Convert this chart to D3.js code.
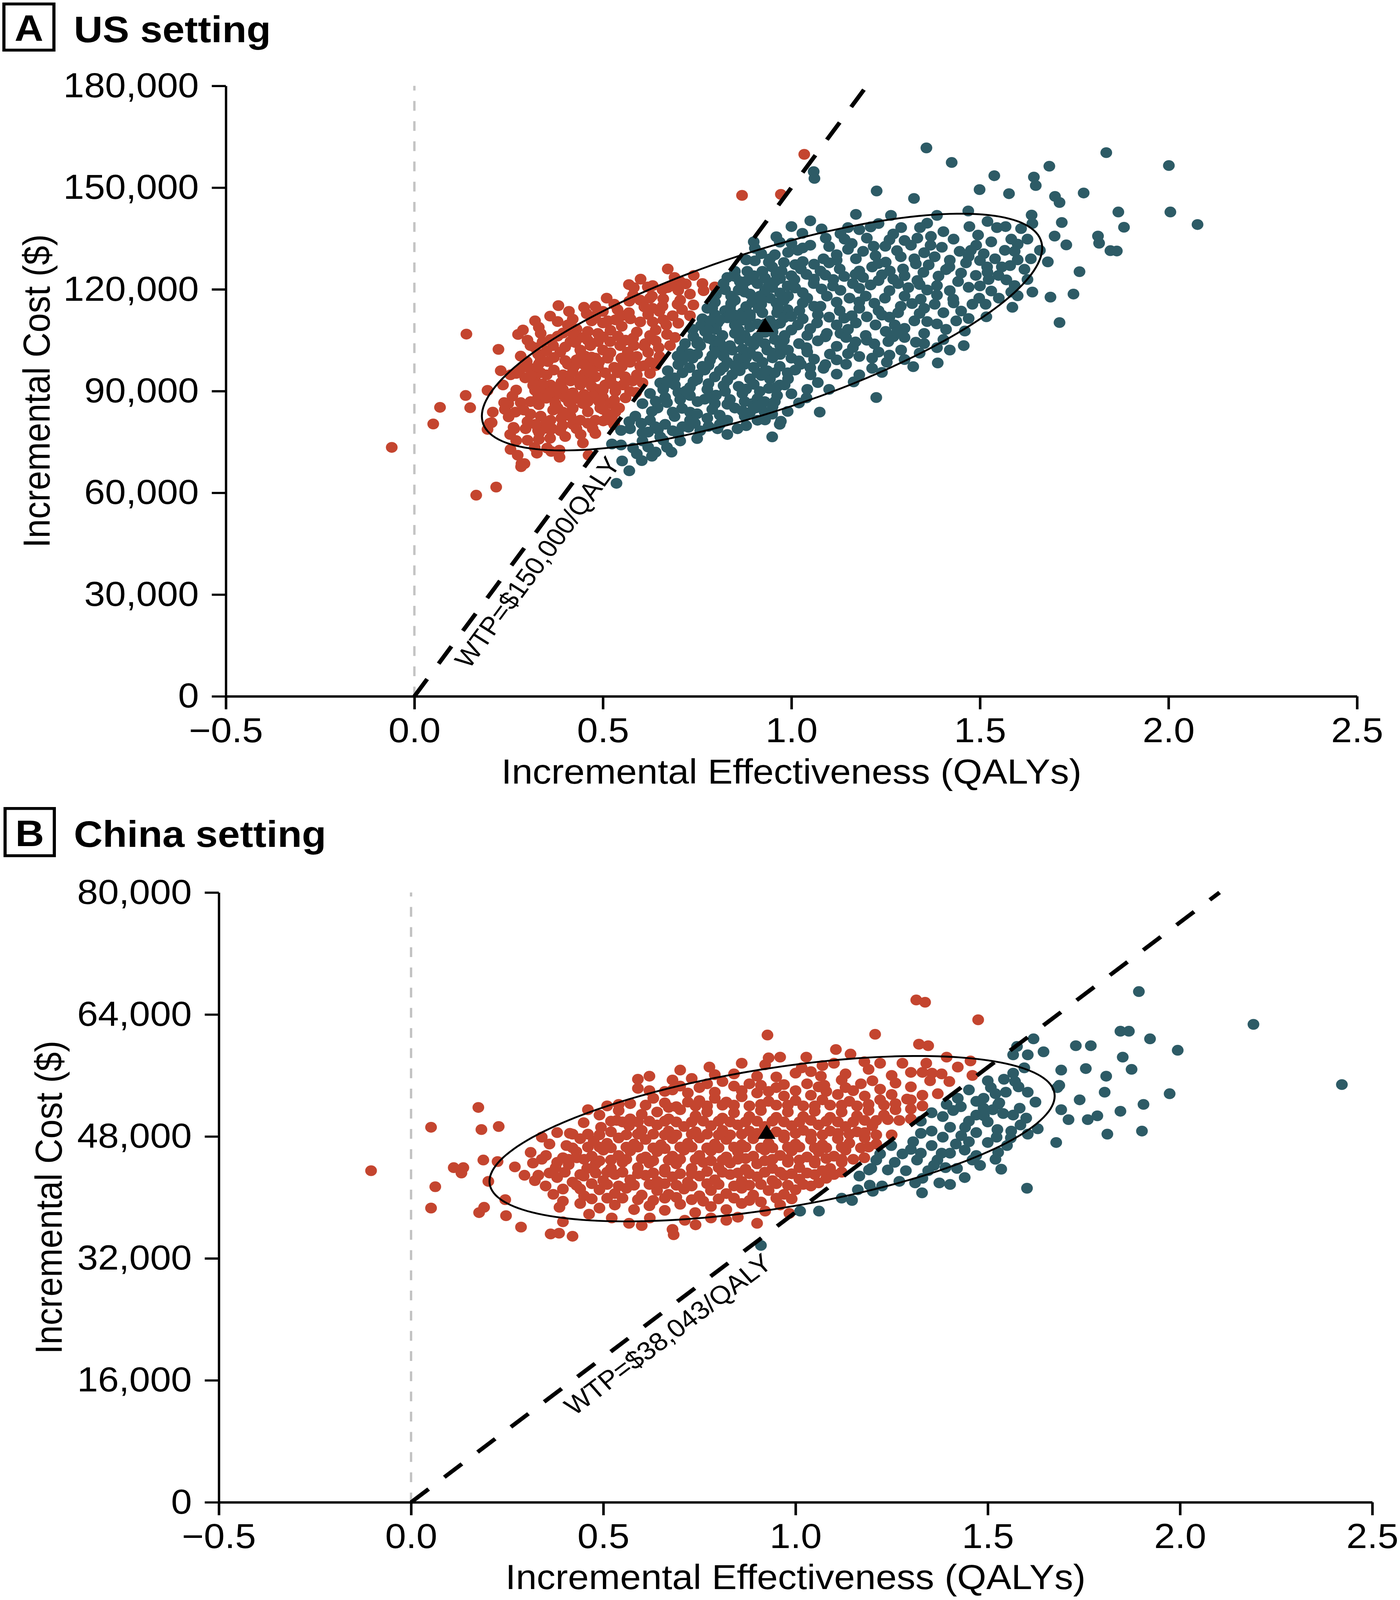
<!DOCTYPE html>
<html>
<head>
<meta charset="utf-8">
<script src="https://cdn.jsdelivr.net/npm/d3@7"></script>
<style>
    html, body { margin: 0; width: 100%; height: 100%; overflow: hidden; background: #fff; }
    svg { display: block; }
</style>
</head>
<body>
<div id="chart-area" style="width:100%;height:100%"></div>
<script>
// ---- data ----
const effectTicks = [-0.5, 0, 0.5, 1, 1.5, 2, 2.5];
const usCostTicks = [0, 30000, 60000, 90000, 120000, 150000, 180000];
const cnCostTicks = [0, 16000, 32000, 48000, 64000, 80000];

const usWtp = 150000;
const cnWtp = 38043;

// mean point [QALY, cost $k]
const usMean = [0.93, 108.8];
const cnMean = [0.925, 48.3];

// 95% ellipse: [cx, cy ($k), half-width QALY, half-height $k, correlation]
const usEllipse = [0.922, 107.4, 0.743, 34.9, 0.71];
const cnEllipse = [0.939, 47.7, 0.735, 10.85, 0.516];

// simulations [incremental QALY, incremental cost $k]
const usPoints = [
    [-0.06,73.4],[0.05,80.3],[0.068,85.2],[0.136,88.7],[0.148,85.1],[0.138,106.8],[0.164,59.3],[0.217,61.7],[0.194,90.2],[0.223,102.3],
    [0.255,72.8],[0.284,68.6],[0.319,73.4],[0.363,72.2],[0.869,147.7],[0.972,148.0],[1.034,159.8],
    [0.200,80.5],[0.194,78.7],[0.263,79.3],[0.254,77.2],[0.328,78.4],[0.346,79.0],[0.364,79.0],[0.393,79.9],[0.420,80.2],[0.441,77.2],
    [0.480,77.5],[0.501,81.2],[0.524,82.4],[0.274,71.1],[0.292,68.6],[0.283,67.7],[0.325,71.7],[0.352,73.2],[0.385,72.6],[0.385,70.5],[0.462,71.1],
    [0.208,83.8],[0.205,80.7],[0.238,86.6],[0.265,78.9],[0.294,93.9],[0.275,106.7],[0.288,108.0],[0.330,108.8],[0.335,99.4],[0.354,98.7],
    [0.298,98.7],[0.315,91.7],[0.331,77.7],[0.361,78.6],[0.382,115.2],[0.394,107.1],[0.427,104.3],[0.387,101.5],[0.443,100.6],[0.407,97.9],
    [0.457,112.8],[0.480,115.0],[0.510,117.4],[0.539,114.0],[0.569,121.4],[0.619,120.7],[0.672,126.0],[0.741,124.1],[0.658,119.9],[0.705,116.8],
    [0.767,119.6],[0.797,120.7],[0.599,116.8],[0.632,114.4],[0.573,111.3],[0.599,110.4],[0.632,110.4],[0.533,111.0],[0.513,110.7],[0.480,112.2],
    [0.685,112.2],[0.731,112.2],[0.668,109.5],[0.691,105.8],[0.625,106.4],[0.612,104.0],[0.648,102.8],[0.678,103.4],[0.582,103.4],[0.566,101.5],
    [0.549,99.7],[0.572,98.5],[0.599,97.3],[0.625,98.5],[0.640,97.5],[0.539,95.4],[0.559,94.2],[0.579,93.0],[0.553,91.8],[0.533,89.9],
    [0.572,89.9],[0.588,89.6],[0.605,92.4],[0.625,95.2],[0.487,104.6],[0.500,102.1],[0.513,99.7],[0.467,103.4],[0.480,99.7],[0.467,97.9],
    [0.487,97.3],[0.506,95.4],[0.480,94.2],[0.460,93.0],[0.506,91.8],[0.487,90.5],[0.473,88.7],[0.500,88.1],[0.519,86.3],[0.493,85.0],
    [0.460,86.9],[0.513,83.2],[0.533,83.8],[0.480,81.4],[0.519,81.4],[0.543,85.0],[0.424,97.3],[0.394,94.8],[0.414,93.0],[0.440,91.8],
    [0.394,90.5],[0.400,88.1],[0.430,87.8],[0.447,86.3],[0.374,86.3],[0.394,83.8],[0.368,84.4],[0.414,82.6],[0.440,81.4],[0.473,78.9],
    [0.447,74.7],[0.335,95.4],[0.315,96.6],[0.351,94.8],[0.321,93.0],[0.361,91.8],[0.348,89.9],[0.374,88.7],[0.328,88.1],[0.308,86.9],
    [0.282,86.6],[0.249,86.3],[0.268,83.8],[0.308,83.2],[0.335,82.6],[0.361,81.4],[0.321,80.2],[0.387,78.3],[0.295,78.9],[0.500,110.1],
    [0.460,107.6],[0.487,107.0],[0.440,105.8],[0.414,104.6],[0.368,103.4],[0.440,102.1],[0.453,100.3],[0.546,103.4],[0.519,104.6],[0.698,115.6],
    [0.658,115.0],[0.569,113.1],[0.625,117.4],[0.672,120.5],[0.731,118.6],[0.764,121.7],[0.705,122.3],[0.632,121.1],[0.582,120.5],[0.407,109.5],
    [0.335,107.0],[0.361,105.2],[0.308,103.4],[0.328,100.9],[0.282,100.3],[0.255,94.8],[0.282,96.6],[0.235,91.8],[0.229,96.0],
    [0.31,94.6],[0.34,92.1],[0.37,96.2],[0.39,92.6],[0.42,95.6],[0.45,95.0],[0.47,91.4],[0.52,93.5],[0.55,97.2],[0.33,86.0],
    [0.36,89.5],[0.38,85.0],[0.42,89.5],[0.45,89.0],[0.49,86.9],[0.53,87.3],[0.56,88.0],[0.35,80.9],[0.39,82.0],[0.42,84.9],
    [0.46,83.9],[0.50,84.6],[0.53,80.1],[0.32,102.8],[0.35,101.8],[0.40,103.0],[0.43,99.2],[0.47,100.0],[0.52,101.3],[0.56,105.0],
    [0.59,100.2],[0.62,101.4],[0.65,100.2],[0.38,110.5],[0.43,108.3],[0.47,110.7],[0.52,107.9],[0.55,109.1],[0.59,107.4],[0.64,108.0],
    [0.67,106.7],[0.70,110.0],[0.45,114.7],[0.53,115.6],[0.58,118.3],[0.62,112.6],[0.66,117.2],[0.70,119.7],[0.74,115.4],[0.69,123.5],
    [0.60,123.0],[0.27,90.3],[0.25,82.4],[0.30,81.0],[0.27,95.2],[0.32,110.7],[0.36,112.1],[0.41,113.5],
    [0.26,88.5],[0.29,84.4],[0.32,90.2],[0.35,87.9],[0.38,91.0],[0.41,86.7],[0.44,93.6],[0.47,95.9],[0.50,90.3],[0.53,91.6],
    [0.56,92.7],[0.59,94.8],[0.61,97.5],[0.30,97.0],[0.33,98.0],[0.37,99.9],[0.40,99.0],[0.45,97.8],[0.49,98.6],[0.53,97.0],
    [0.57,99.5],[0.61,103.3],[0.64,104.8],[0.30,105.0],[0.34,104.5],[0.38,106.2],[0.42,107.0],[0.46,105.0],[0.50,106.0],[0.54,106.2],
    [0.58,105.6],[0.66,111.0],[0.71,114.0],[0.42,111.2],[0.50,113.5],[0.55,112.2],[0.61,114.8],[0.65,113.5],[0.57,116.5],[0.63,118.0],
    [0.68,121.0],[0.72,121.6],[0.36,76.1],[0.40,76.6],[0.43,78.9],[0.46,80.5],[0.30,75.5],[0.33,75.8],[0.27,75.4],[0.24,84.6],
    [0.548,78.4],[0.524,74.4],[0.548,74.1],[0.605,75.3],[0.602,80.5],[0.646,78.7],[0.682,72.0],[0.551,69.4],[0.603,69.5],[0.536,62.8],
    [0.727,79.3],[0.744,80.5],[0.590,71.5],[0.640,72.0],[0.620,73.5],[0.660,75.5],
    [0.57,66.5],[0.58,73.2],[0.63,70.8],[0.67,73.4],[0.70,77.3],[0.75,76.0],[0.78,79.6],[0.83,77.2],[0.88,79.8],[0.62,77.9],[0.57,81.0],
    [0.903,132.1],[0.956,130.2],[0.903,128.4],[0.949,126.6],[0.883,125.3],[0.923,125.3],[0.830,123.5],[0.863,122.3],[0.910,121.7],[0.949,120.5],
    [0.824,119.9],[0.876,119.2],[0.850,116.8],[0.797,116.2],[0.896,116.2],[0.943,117.4],[0.777,114.4],[0.824,113.7],[0.870,113.1],[0.923,113.1],
    [0.962,113.1],[0.764,111.3],[0.804,110.1],[0.850,109.5],[0.890,108.9],[0.771,107.6],[0.738,108.2],[0.817,106.4],[0.863,105.2],[0.910,105.8],
    [0.956,105.2],[0.718,104.0],[0.758,103.4],[0.797,102.8],[0.843,102.1],[0.890,101.5],[0.936,102.1],[0.698,100.3],[0.738,99.7],[0.784,99.1],
    [0.830,98.5],[0.876,97.9],[0.923,98.5],[0.969,97.3],[0.672,96.0],[0.711,95.4],[0.751,94.8],[0.797,94.2],[0.843,94.8],[0.890,93.6],
    [0.943,93.6],[0.652,92.4],[0.691,91.8],[0.731,91.1],[0.777,90.5],[0.824,89.9],[0.870,89.3],[0.916,89.9],[0.962,88.7],[0.625,89.3],
    [0.665,88.1],[0.705,87.5],[0.751,86.9],[0.797,86.3],[0.850,85.0],[0.896,86.3],[0.605,86.3],[0.645,85.0],[0.685,83.8],[0.731,83.8],
    [0.777,82.0],[0.830,81.4],[0.876,82.6],[0.586,82.6],[0.625,81.4],[0.665,80.2],[0.711,79.5],[0.758,78.3],[0.810,80.2],[0.572,78.9],
    [0.605,77.7],[0.652,76.5],[0.705,75.3],[0.804,78.9],[0.969,80.2],[0.929,83.8],[0.969,91.8],[0.936,96.0],[0.956,109.5],[0.969,133.9],
    [0.943,129.0],[0.850,125.3],[0.800,118.5],[0.840,118.0],[0.916,118.0],[0.797,112.5],[0.890,111.9],[0.943,110.7],[0.790,105.2],[0.837,103.4],
    [0.876,106.4],[0.929,104.0],[0.764,97.3],[0.810,96.0],[0.863,96.0],[0.910,95.4],[0.956,95.4],[0.731,88.7],[0.784,88.1],[0.837,87.5],
    [0.876,86.9],[0.929,86.9],[0.949,83.2],[0.910,81.4],[0.857,78.9],[0.731,81.4],[0.685,78.3],[0.639,79.5],[0.672,92.4],[0.711,99.1],
    [0.751,104.6],[0.784,110.7],[0.837,114.4],[0.900,134.0],[0.960,135.5],[1.000,138.5],[1.050,140.2],
    [0.63,84.0],[0.67,86.6],[0.71,84.9],[0.75,83.3],[0.79,84.6],[0.83,86.1],[0.87,84.2],[0.91,87.8],[0.95,85.4],[0.66,90.5],
    [0.70,89.6],[0.74,92.8],[0.78,92.2],[0.82,91.6],[0.86,91.4],[0.90,92.0],[0.94,90.8],[0.69,93.9],[0.73,96.9],[0.77,96.2],
    [0.82,97.0],[0.86,99.6],[0.90,97.0],[0.95,99.8],[0.71,102.0],[0.75,100.9],[0.79,100.5],[0.82,100.3],[0.87,102.4],[0.91,100.1],
    [0.95,101.2],[0.74,106.1],[0.78,105.6],[0.81,104.3],[0.85,107.0],[0.89,104.7],[0.93,107.3],[0.97,103.5],[0.76,109.3],[0.80,108.2],
    [0.83,111.6],[0.87,110.9],[0.91,109.8],[0.95,107.4],[0.98,111.6],[0.79,114.5],[0.85,112.4],[0.88,114.9],[0.92,115.6],[0.96,116.0],
    [0.99,114.0],[0.82,121.7],[0.86,119.8],[0.89,118.6],[0.93,119.6],[0.97,118.9],[0.99,121.0],[0.85,123.8],[0.88,122.4],[0.93,123.3],
    [0.97,123.2],[0.98,127.9],[0.92,130.5],[0.88,128.7],
    [0.69,82.5],[0.81,82.9],[0.93,81.5],[0.99,84.0],[0.77,87.6],[0.89,83.7],[0.64,87.0],[0.72,90.0],[0.80,88.8],[0.88,90.6],
    [0.96,91.0],[1.04,88.0],[0.67,93.0],[0.75,93.4],[0.83,93.2],[0.92,94.6],[0.99,95.4],[1.05,96.9],[0.70,97.8],[0.78,97.6],
    [0.85,97.5],[0.93,96.0],[1.02,98.9],[1.09,97.8],[0.73,101.0],[0.80,101.6],[0.88,99.8],[0.97,100.8],[1.04,102.8],[1.15,101.0],
    [0.75,104.0],[0.82,103.0],[0.90,103.6],[0.98,105.0],[1.09,106.0],[1.20,105.0],[0.78,108.0],[0.86,108.0],[0.93,109.8],[1.00,108.0],
    [1.13,107.0],[1.27,106.0],[0.81,111.0],[0.89,112.6],[0.97,110.0],[1.03,111.3],[1.14,111.5],[1.24,112.4],[1.36,110.5],[0.84,115.8],
    [0.92,117.0],[0.98,116.8],[1.06,115.0],[1.18,116.3],[1.29,115.0],[1.43,116.0],[0.87,120.5],[0.94,121.0],[1.03,119.0],[1.11,121.0],
    [1.21,121.3],[1.34,121.4],[1.50,121.0],[0.90,124.0],[0.96,124.6],[1.06,123.0],[1.17,124.4],[1.27,123.0],[1.41,125.8],[1.52,125.0],
    [0.94,128.0],[1.01,127.3],[1.12,128.6],[1.23,127.6],[1.33,127.5],[1.47,129.7],[1.58,127.0],[1.03,132.2],[1.16,133.5],[1.26,134.6],
    [1.37,135.6],[1.49,133.0],[1.60,133.3],[1.08,137.8],[1.21,138.4],[1.36,139.5],[1.52,140.0],
    [1.358,161.7],[1.425,157.4],[1.835,160.3],[2.001,156.5],[1.684,156.3],[1.538,153.5],[1.643,153.1],[1.648,150.6],[1.499,149.4],[1.577,148.2],
    [1.226,149.0],[1.325,146.8],[1.699,147.4],[1.711,145.6],[1.775,148.4],[1.867,142.8],[2.005,142.8],[2.077,139.1],[1.882,138.3],[1.813,135.7],
    [1.816,133.6],[1.846,131.4],[1.863,131.3],[1.717,139.7],[1.698,135.7],[1.729,133.1],[1.680,128.1],[1.764,125.2],[1.748,118.6],[1.687,117.7],
    [1.711,110.2],[1.637,141.9],[1.059,154.7],[1.061,152.7],[0.949,76.5],[0.972,81.1],[1.075,83.8],[1.225,88.1],[1.165,92.7],[1.323,97.2],
    [1.388,98.3],[1.457,103.4],[1.460,107.7],[1.586,114.7],[1.517,111.9],
    [1.171,142.1],[1.264,141.8],[1.386,141.8],[1.469,143.1],[1.091,135.1],[1.029,136.5],[1.150,138.2],[1.180,137.6],[1.231,139.4],[1.291,138.2],
    [1.341,138.2],[1.403,137.0],[1.472,138.5],[1.495,136.0],[1.545,138.2],[1.568,138.5],[1.609,137.9],[1.639,139.4],[1.626,134.8],[1.583,134.8],
    [1.270,136.3],[1.334,135.1],[1.141,134.8],[1.218,132.7],[1.249,132.7],[1.317,133.0],[1.369,133.0],[1.399,132.4],[1.446,131.2],[1.476,131.5],
    [1.510,130.5],[1.566,131.5],[1.592,131.2],[1.659,131.5],[0.991,130.9],[1.017,131.5],[1.085,129.0],[1.120,130.2],[1.171,129.0],[1.223,129.9],
    [1.352,130.8],[1.326,129.0],[1.635,129.0],[1.618,125.9],[1.558,126.6],[1.519,126.6],[1.463,127.8],[1.419,126.6],[1.364,127.2],[1.296,126.0],
    [1.261,125.4],[1.214,126.6],[1.180,125.4],[1.128,126.0],[1.077,125.4],[1.025,126.0],[0.974,125.4],[0.896,122.9],[0.956,122.3],[1.008,122.9],
    [1.059,121.7],[1.111,122.9],[1.163,121.7],[1.231,122.6],[1.283,121.7],[1.334,122.6],[1.386,121.1],[1.442,122.3],[1.489,124.1],[1.523,122.9],
    [1.549,124.1],[1.592,121.1],[1.626,122.9],[1.639,119.2],[1.583,119.2],[1.498,117.4],[1.429,117.1],[1.386,118.3],[1.343,117.1],[1.300,118.0],
    [1.248,117.4],[1.197,118.0],[1.154,117.4],[1.094,118.0],[1.042,117.4],[0.991,118.0],[0.913,114.4],[0.965,114.4],[1.021,113.7],[1.077,115.0],
    [1.128,113.7],[1.180,114.4],[1.231,113.7],[1.283,113.1],[1.352,114.4],[1.403,113.1],[1.480,115.6],[1.515,115.6],[1.437,110.7],[1.386,109.8],
    [1.326,110.7],[1.274,109.5],[1.223,109.5],[1.171,110.1],[1.120,109.5],[1.068,110.1],[1.017,109.5],[0.982,106.4],[1.042,106.4],[1.094,107.0],
    [1.145,105.8],[1.197,106.4],[1.257,104.6],[1.300,105.8],[1.352,107.0],[1.403,105.2],[1.386,102.8],[1.352,104.0],[1.291,102.1],[1.231,101.5],
    [1.163,102.8],[1.102,100.9],[1.042,101.5],[0.991,102.1],[1.025,97.9],[1.085,96.7],[1.145,97.9],[1.214,99.7],[1.253,98.5],[1.214,96.7],
    [1.051,94.8],[0.991,93.6],[1.042,90.5],[0.982,91.8],[0.922,86.3],[0.956,86.9],[0.905,85.0],
    [1.00,133.6],[1.05,133.0],[1.10,132.6],[1.13,136.4],[1.20,135.1],[1.28,131.4],[1.30,134.4],[1.43,134.8],[1.53,134.0],[1.03,128.2],
    [1.06,127.4],[1.10,127.8],[1.15,131.8],[1.19,131.2],[1.25,128.0],[1.29,129.6],[1.38,129.6],[1.42,128.6],[1.50,128.5],[1.54,129.0],
    [1.60,128.7],[1.00,124.0],[1.04,124.4],[1.09,124.2],[1.14,123.8],[1.19,123.5],[1.24,124.3],[1.30,124.0],[1.35,125.0],[1.39,123.9],
    [1.45,124.8],[1.57,122.8],[1.01,120.4],[1.08,120.1],[1.13,119.7],[1.18,120.3],[1.26,119.6],[1.31,120.5],[1.36,119.8],[1.42,119.6],
    [1.47,120.6],[1.53,119.5],[1.60,118.1],[1.03,116.0],[1.07,112.5],[1.12,116.2],[1.16,112.2],[1.22,115.9],[1.26,111.8],[1.32,115.8],
    [1.38,115.6],[1.45,113.6],[1.55,117.4],[1.00,112.0],[1.05,108.4],[1.10,111.8],[1.15,108.2],[1.20,111.9],[1.25,107.6],[1.30,108.5],
    [1.34,112.9],[1.41,108.2],[1.47,111.4],[1.02,104.0],[1.07,104.8],[1.12,103.2],[1.17,104.5],[1.22,103.9],[1.28,107.4],[1.33,104.4],
    [1.42,102.1],[1.00,99.7],[1.06,99.4],[1.12,99.2],[1.18,100.2],[1.26,100.6],[1.30,99.3],[1.34,101.2],[1.01,96.2],[1.07,92.5],
    [1.12,95.0],[1.18,94.8],[1.24,95.5],[1.00,89.2],[1.10,90.5],[1.02,86.5]
];

const cnPoints = [
    [-0.104,43.5],[0.052,49.2],[0.175,51.8],[0.183,48.9],[0.228,49.3],[0.111,43.9],[0.136,43.9],[0.131,43.2],[0.063,41.4],[0.188,44.9],
    [0.225,44.7],[0.201,42.1],[0.052,38.6],[0.177,38.0],[0.190,38.7],[0.245,39.7],[0.247,37.6],[0.286,36.1],[0.363,35.2],[0.385,35.3],
    [0.420,34.9],[0.395,36.8],[0.311,45.9],[0.351,45.5],[0.317,44.5],[0.295,42.9],[0.331,42.9],[0.322,42.2],[0.376,43.9],
    [0.340,47.9],[0.413,48.4],[0.404,46.8],[0.395,45.2],[0.431,45.2],[0.458,43.8],[0.449,42.8],[0.440,41.1],[0.395,41.1],[0.395,39.5],
    [0.386,38.7],[0.449,49.8],[0.494,49.2],[0.535,50.1],[0.567,49.4],
    [0.463,37.8],[0.522,37.3],[0.567,36.6],[0.621,37.3],[0.680,35.8],[0.683,35.1],[0.712,37.0],[0.780,37.3],[0.739,38.0],[0.850,37.4],
    [0.921,38.2],[0.984,37.9],[0.60,36.3],[0.74,36.4],[0.82,37.0],[0.90,36.6],
    [0.44,39.2],[0.49,38.6],[0.53,39.0],[0.58,38.4],[0.62,38.9],[0.66,38.3],[0.70,39.1],[0.78,38.8],[0.82,38.4],[0.86,39.2],[0.96,39.0],
    [0.47,39.8],[0.55,39.9],[0.63,39.6],[0.69,40.0],[0.76,39.5],[0.84,39.9],[0.91,39.4],[0.99,39.8],
    [0.51,39.9],[0.59,39.7],[0.66,39.9],[0.73,39.7],[0.80,39.8],[0.88,39.6],[0.95,39.9],
    [0.37,40.4],[0.45,40.2],[0.49,41.0],[0.53,40.5],[0.56,41.2],[0.60,40.3],[0.64,40.9],[0.67,40.4],[0.71,41.1],[0.75,40.2],
    [0.78,40.9],[0.82,40.5],[0.86,41.2],[0.89,40.3],[0.93,40.9],[0.97,40.4],[1.00,41.0],[1.04,41.5],
    [0.35,41.5],[0.47,41.8],[0.54,41.5],[0.62,41.7],[0.69,41.6],[0.77,41.8],[0.84,41.5],[0.91,41.7],[0.98,41.6],[1.06,41.9],
    [0.43,41.6],[0.51,41.7],[0.58,41.6],[0.66,41.8],[0.73,41.5],[0.80,41.7],[0.88,41.6],[0.95,41.8],[1.02,41.7],
    [0.38,42.6],[0.42,42.0],[0.50,42.2],[0.53,43.0],[0.57,42.3],[0.61,42.9],[0.64,42.1],[0.68,42.7],[0.72,42.0],[0.75,42.8],
    [0.79,42.3],[0.83,43.0],[0.86,42.1],[0.90,42.7],[0.94,42.2],[0.97,42.9],[1.01,42.4],[1.05,43.0],[1.08,42.5],[1.12,43.3],
    [0.27,44.0],[0.40,43.3],[0.48,43.2],[0.55,43.3],[0.63,43.2],[0.70,43.1],[0.77,43.4],[0.85,43.2],[0.92,43.3],[0.99,43.1],[1.07,43.5],
    [0.36,43.2],[0.44,43.0],[0.51,43.3],[0.59,43.1],[0.66,43.3],[0.73,43.1],[0.81,43.3],[0.88,43.1],[0.96,43.3],[1.03,43.2],[1.10,43.0],
    [0.41,44.3],[0.48,44.4],[0.52,43.8],[0.55,44.6],[0.59,43.9],[0.62,44.5],[0.66,43.7],[0.69,44.4],[0.73,43.8],[0.76,44.6],
    [0.80,43.9],[0.83,44.5],[0.87,43.7],[0.90,44.4],[0.94,43.8],[0.98,44.6],[1.01,43.9],[1.05,44.5],[1.09,43.8],[1.12,44.6],[1.15,45.0],
    [0.38,44.6],[0.45,45.0],[0.52,44.9],[0.60,45.1],[0.67,44.9],[0.74,45.0],[0.81,44.9],[0.87,45.1],[0.94,45.0],[1.01,44.9],[1.08,45.1],
    [0.34,45.0],[0.41,45.0],[0.49,44.8],[0.56,45.0],[0.63,44.8],[0.70,45.0],[0.78,44.8],[0.85,45.0],[0.92,44.8],[0.98,45.0],[1.05,44.8],[1.12,45.0],
    [0.43,46.0],[0.47,45.4],[0.50,46.2],[0.54,45.5],[0.57,46.1],[0.61,45.3],[0.64,46.0],[0.68,45.4],[0.71,46.2],[0.75,45.5],
    [0.78,46.1],[0.82,45.3],[0.85,46.0],[0.89,45.4],[0.92,46.2],[0.96,45.5],[0.99,46.1],[1.03,45.3],[1.06,46.0],[1.10,45.4],
    [1.13,46.2],[1.17,46.5],[1.21,47.0],
    [0.46,46.6],[0.52,46.5],[0.59,46.6],[0.66,46.4],[0.73,46.6],[0.80,46.5],[0.87,46.6],[0.94,46.5],[1.01,46.6],[1.08,46.5],
    [0.42,46.5],[0.49,46.6],[0.56,46.6],[0.63,46.5],[0.70,46.6],[0.77,46.5],[0.84,46.6],[0.91,46.5],[0.98,46.6],[1.05,46.5],[1.12,46.6],[1.19,46.6],
    [0.36,47.0],[0.44,47.7],[0.475,47.4],[0.51,47.1],[0.54,47.8],[0.58,47.0],[0.61,47.6],[0.65,46.9],[0.68,47.7],[0.72,47.1],
    [0.75,47.8],[0.79,47.0],[0.82,47.6],[0.86,46.9],[0.89,47.7],[0.93,47.1],[0.97,47.8],[1.00,47.0],[1.04,47.6],[1.07,46.9],
    [1.11,47.7],[1.14,47.1],[1.18,47.8],[1.25,48.2],
    [0.38,48.5],[0.46,48.3],[0.56,48.2],[0.63,48.3],[0.69,48.2],[0.77,48.3],[0.83,48.2],[0.90,48.4],[0.97,48.2],[1.04,48.3],
    [1.11,48.4],[1.18,48.5],
    [0.42,48.3],[0.49,48.2],[0.59,48.3],[0.66,48.2],[0.73,48.3],[0.80,48.2],[0.86,48.3],[0.93,48.2],[1.00,48.4],[1.07,48.2],[1.14,48.3],[1.21,48.2],
    [0.52,48.6],[0.60,48.8],[0.64,49.5],[0.67,48.7],[0.71,49.3],[0.74,48.6],[0.78,49.4],[0.81,48.8],[0.85,49.5],[0.88,48.7],
    [0.92,49.3],[0.95,48.6],[0.99,49.4],[1.02,48.8],[1.06,49.5],[1.09,48.7],[1.13,49.3],[1.16,48.6],[1.20,49.4],[1.27,50.1],
    [0.55,49.9],[0.62,50.0],[0.69,49.9],[0.76,50.0],[0.83,49.9],[0.90,50.0],[0.97,49.9],[1.04,50.1],[1.11,49.9],[1.18,50.1],
    [1.24,50.2],[1.30,50.3],
    [0.52,50.0],[0.59,49.9],[0.66,50.0],[0.73,49.9],[0.80,50.0],[0.87,49.9],[0.94,50.0],[1.01,49.9],[1.08,50.0],[1.15,49.9],[1.21,50.1],
    [0.46,51.5],[0.49,50.8],[0.51,52.0],[0.54,51.4],[0.57,50.3],[0.60,50.9],[0.64,51.2],[0.67,50.3],[0.70,51.5],[0.74,50.7],
    [0.77,51.2],[0.81,50.4],[0.84,51.1],[0.88,50.6],[0.91,51.4],[0.95,50.5],[0.98,51.2],[1.02,50.6],[1.05,51.3],[1.09,50.5],
    [1.12,51.2],[1.16,50.7],[1.19,51.4],[1.23,50.8],[1.26,51.5],[1.30,51.6],[1.33,52.0],
    [0.57,52.3],[0.69,51.9],[0.77,52.0],[0.84,52.1],[0.91,52.2],[0.98,52.1],[1.05,52.0],[1.12,52.1],[1.19,52.2],[1.26,52.3],
    [0.54,52.2],[0.61,52.1],[0.67,51.8],[0.74,52.0],[0.81,52.1],[0.88,52.0],[0.95,52.1],[1.02,52.0],[1.09,52.1],[1.16,52.0],[1.23,52.1],[1.30,52.8],
    [0.63,53.0],[0.66,52.4],[0.72,52.5],[0.75,52.7],[0.79,53.0],[0.82,52.5],[0.86,53.2],[0.90,53.7],[0.93,52.6],[0.97,53.3],
    [1.00,52.7],[1.04,53.4],[1.07,52.8],[1.11,53.5],[1.14,52.6],[1.18,53.3],[1.22,52.8],[1.25,53.5],[1.29,52.9],[1.33,53.4],[1.37,53.6],
    [0.66,53.9],[0.72,53.7],[0.79,53.8],[0.86,54.0],[0.93,53.9],[1.00,54.0],[1.08,53.9],[1.15,54.0],
    [0.62,54.0],[0.70,54.6],[0.77,54.9],[0.91,54.7],[0.97,54.8],[1.06,54.5],[1.13,54.4],[1.20,55.3],[1.33,56.4],
    [0.59,54.3],[0.68,54.1],[0.75,54.4],[0.81,55.2],[0.84,54.6],[0.88,54.9],[0.95,54.4],[1.03,54.9],[1.075,54.7],[1.12,55.4],
    [1.17,54.9],[1.22,54.2],[1.26,55.0],[1.30,54.5],[1.35,55.3],[1.40,55.2],
    [0.59,55.5],[0.68,55.4],[0.84,56.2],[0.95,55.8],[1.00,56.3],[1.066,55.9],[1.19,56.8],[1.25,56.0],[1.355,56.3],[1.46,56.0],
    [0.73,55.6],[0.79,56.1],[0.90,55.9],[1.04,56.5],[1.13,56.2],[1.30,56.4],[0.62,55.9],[0.86,57.6],[1.07,57.3],[1.22,57.6],
    [0.70,56.7],[1.38,56.2],
    [0.776,57.1],[0.921,57.4],[0.93,58.3],[0.96,58.4],[1.016,57.0],[1.028,58.4],[1.10,57.6],[1.105,59.4],[1.143,58.8],[1.179,57.8],
    [1.278,57.6],[1.34,57.6],[1.393,58.4],[1.422,57.1],[1.455,57.9],[1.321,60.1],[1.345,59.9],[0.927,61.3],[1.207,61.4],[1.314,65.9],
    [1.337,65.6],[1.475,63.3],
    [0.910,33.7],[1.012,38.2],[1.061,38.2],[1.120,39.9],[1.147,39.6],[1.166,42.8],[1.193,41.6],[1.179,45.2],[1.197,43.8],[1.162,41.0],
    [1.201,40.8],[1.225,41.5],[1.191,43.6],[1.287,43.5],[1.345,43.5],[1.311,41.9],[1.329,40.6],[1.402,41.7],[1.374,41.9],[1.535,43.7],
    [1.602,41.2],[1.402,45.8],[1.470,45.5],[1.527,45.9],[1.525,48.9],[1.523,47.9],[1.604,48.3],[1.561,48.7],[1.585,49.5],[1.566,50.8],
    [1.583,51.7],[1.527,52.2],[1.513,51.5],[1.489,51.7],[1.470,50.8],[1.451,50.0],[1.441,49.2],[1.431,48.1],[1.451,47.3],[1.417,47.0],
    [1.383,47.9],[1.354,48.7],[1.326,50.0],[1.354,51.1],[1.383,50.6],[1.402,49.2],[1.393,52.2],[1.422,53.0],[1.451,54.1],[1.489,53.0],
    [1.508,54.4],[1.547,53.8],[1.542,55.5],[1.571,55.2],[1.604,53.8],[1.624,52.5],[1.681,54.4],[1.566,56.3],[1.595,57.0],[1.604,58.7],
    [1.619,60.8],[1.576,59.8],[1.566,58.7],[1.326,48.4],[1.306,47.3],[1.354,46.8],[1.278,45.7],[1.326,45.8],[1.249,46.8],[1.258,44.6],
    [1.316,44.9],[1.220,45.7],[1.210,44.9],[1.369,44.9],
    [1.42,43.8],[1.48,44.2],[1.50,47.2],[1.55,46.8],[1.47,48.5],[1.50,49.9],[1.54,51.0],[1.60,50.4],[1.63,49.0],[1.47,52.6],
    [1.52,53.6],[1.58,54.5],[1.44,46.2],[1.38,45.8],[1.24,43.6],[1.27,42.1],[1.36,44.2],[1.44,42.6],[1.30,46.3],[1.41,51.4],
    [1.46,44.9],[1.52,45.0],[1.39,43.9],[1.33,42.5],[1.56,47.8],[1.49,50.7],[1.53,52.4],[1.43,51.9],[1.50,55.3],
    [1.893,67.0],[2.191,62.7],[1.845,61.8],[1.867,61.8],[1.922,60.8],[1.994,59.3],[1.729,59.9],[1.768,59.9],[1.851,58.4],[1.874,56.8],
    [1.645,59.1],[1.691,56.7],[1.755,56.9],[1.808,55.9],[2.421,54.8],[1.686,54.7],[1.804,53.8],[1.973,53.6],[1.739,52.8],[1.905,52.2],
    [1.691,51.5],[1.845,51.3],[1.710,50.2],[1.760,50.2],[1.785,50.7],[1.811,48.3],[1.901,48.7],[1.678,47.2]
];

// ---- drawing ----
const colors = { above: "#c4452f", below: "#2d5b66" };
const font = "'Liberation Sans', Arial, Helvetica, sans-serif";
const pageSize = { width: 3583, height: 4437 };

const panels = [
    {
        letter: "A", title: "US setting", points: usPoints, wtp: usWtp, wtpLabel: "WTP=$150,000/QALY",
        mean: usMean, ellipse: usEllipse, costTicks: usCostTicks, costMax: 180000,
        x0: 578, x1: 3473, y0: 1931, y1: 238,
        box: [10, 11, 128, 128], letterPos: [74, 114], titleY: 117, xTitleY: 2173, yTitleX: 127,
        labelAlong: 140, labelPerp: 74, labelSize: 70
    },
    {
        letter: "B", title: "China setting", points: cnPoints, wtp: cnWtp, wtpLabel: "WTP=$38,043/QALY",
        mean: cnMean, ellipse: cnEllipse, costTicks: cnCostTicks, costMax: 80000,
        x0: 560, x1: 3512, y0: 4166, y1: 2475,
        box: [13, 2242, 126, 131], letterPos: [76, 2346], titleY: 2349, xTitleY: 4407, yTitleX: 158,
        labelAlong: 474, labelPerp: 80, labelSize: 71
    }
];

// scale the page-sized drawing into whatever viewport the browser gives
const svg = d3.select("#chart-area")
    .append("svg")
    .attr("width", "100%")
    .attr("height", "100%")
    .attr("viewBox", `0 0 ${pageSize.width} ${pageSize.height}`)
    .attr("preserveAspectRatio", "none")
    .attr("font-family", font);

const drawPanel = function (p) {
    const g = svg.append("g");

    const x = d3.scaleLinear().domain([-0.5, 2.5]).range([p.x0, p.x1]);
    const y = d3.scaleLinear().domain([0, p.costMax]).range([p.y0, p.y1]);

    // header
    g.append("rect")
        .attr("x", p.box[0]).attr("y", p.box[1])
        .attr("width", p.box[2]).attr("height", p.box[3])
        .attr("fill", "none").attr("stroke", "#000").attr("stroke-width", 8);
    g.append("text")
        .attr("x", p.letterPos[0]).attr("y", p.letterPos[1])
        .attr("text-anchor", "middle")
        .attr("font-size", 102).attr("font-weight", "bold")
        .text(p.letter);
    g.append("text")
        .attr("x", 189).attr("y", p.titleY)
        .attr("font-size", 102).attr("font-weight", "bold")
        .text(p.title);

    // zero effect reference
    g.append("line")
        .attr("x1", x(0)).attr("x2", x(0))
        .attr("y1", y(0)).attr("y2", y(p.costMax))
        .attr("stroke", "#c3c3c3").attr("stroke-width", 6)
        .attr("stroke-dasharray", "27,29");

    // simulations
    g.append("g").selectAll("circle")
        .data(p.points)
        .join("circle")
        .attr("cx", d => x(d[0]))
        .attr("cy", d => y(d[1] * 1000))
        .attr("r", 15)
        .attr("fill", d => d[1] * 1000 > p.wtp * d[0] ? colors.above : colors.below);

    // confidence ellipse
    const [cx, cy, rx, ry, rho] = p.ellipse;
    const ts = d3.range(0, 361, 2).map(a => a * Math.PI / 180);
    const ellipseLine = d3.line()
        .x(t => x(cx + rx * Math.cos(t)))
        .y(t => y((cy + ry * (rho * Math.cos(t) + Math.sqrt(1 - rho * rho) * Math.sin(t))) * 1000))
        .curve(d3.curveLinearClosed);
    g.append("path")
        .attr("d", ellipseLine(ts))
        .attr("fill", "none").attr("stroke", "#000").attr("stroke-width", 5);

    // willingness-to-pay threshold
    const wtpEnd = [p.costMax / p.wtp, p.costMax];
    g.append("path")
        .attr("d", d3.line().x(d => x(d[0])).y(d => y(d[1]))([[0, 0], wtpEnd]))
        .attr("stroke", "#000").attr("stroke-width", 11)
        .attr("stroke-dasharray", "58,52");

    const ang = Math.atan2(y(wtpEnd[1]) - y(0), x(wtpEnd[0]) - x(0));
    const ca = Math.cos(ang), sa = Math.sin(ang);
    const lx = x(0) + p.labelAlong * ca - p.labelPerp * sa;
    const ly = y(0) + p.labelAlong * sa + p.labelPerp * ca;
    g.append("text")
        .attr("transform", `translate(${lx},${ly}) rotate(${ang * 180 / Math.PI})`)
        .attr("font-size", p.labelSize)
        .text(p.wtpLabel);

    // mean
    g.append("path")
        .attr("d", d3.symbol(d3.symbolTriangle).size(900)())
        .attr("transform", `translate(${x(p.mean[0])},${y(p.mean[1] * 1000)})`)
        .attr("fill", "#000");

    // axes
    const xAxis = d3.axisBottom(x)
        .tickValues(effectTicks)
        .tickFormat(d3.format(".1f"))
        .tickSize(36).tickSizeOuter(0).tickPadding(23);
    g.append("g")
        .attr("transform", `translate(0,${p.y0})`)
        .call(xAxis)
        .attr("font-size", 96).attr("font-family", font)
        .call(a => a.selectAll("path,line").attr("stroke-width", 6.5));

    const yAxis = d3.axisLeft(y)
        .tickValues(p.costTicks)
        .tickFormat(d3.format(","))
        .tickSize(36).tickSizeOuter(0).tickPadding(33);
    g.append("g")
        .attr("transform", `translate(${p.x0},0)`)
        .call(yAxis)
        .attr("font-size", 96).attr("font-family", font)
        .call(a => a.selectAll("path,line").attr("stroke-width", 6));

    g.append("text")
        .attr("x", (p.x0 + p.x1) / 2).attr("y", p.xTitleY)
        .attr("text-anchor", "middle").attr("font-size", 96)
        .text("Incremental Effectiveness (QALYs)");
    g.append("text")
        .attr("transform", `translate(${p.yTitleX},${(p.y0 + p.y1) / 2}) rotate(-90)`)
        .attr("text-anchor", "middle").attr("font-size", 96)
        .text("Incremental Cost ($)");
}

panels.forEach(drawPanel);
</script>
</body>
</html>
